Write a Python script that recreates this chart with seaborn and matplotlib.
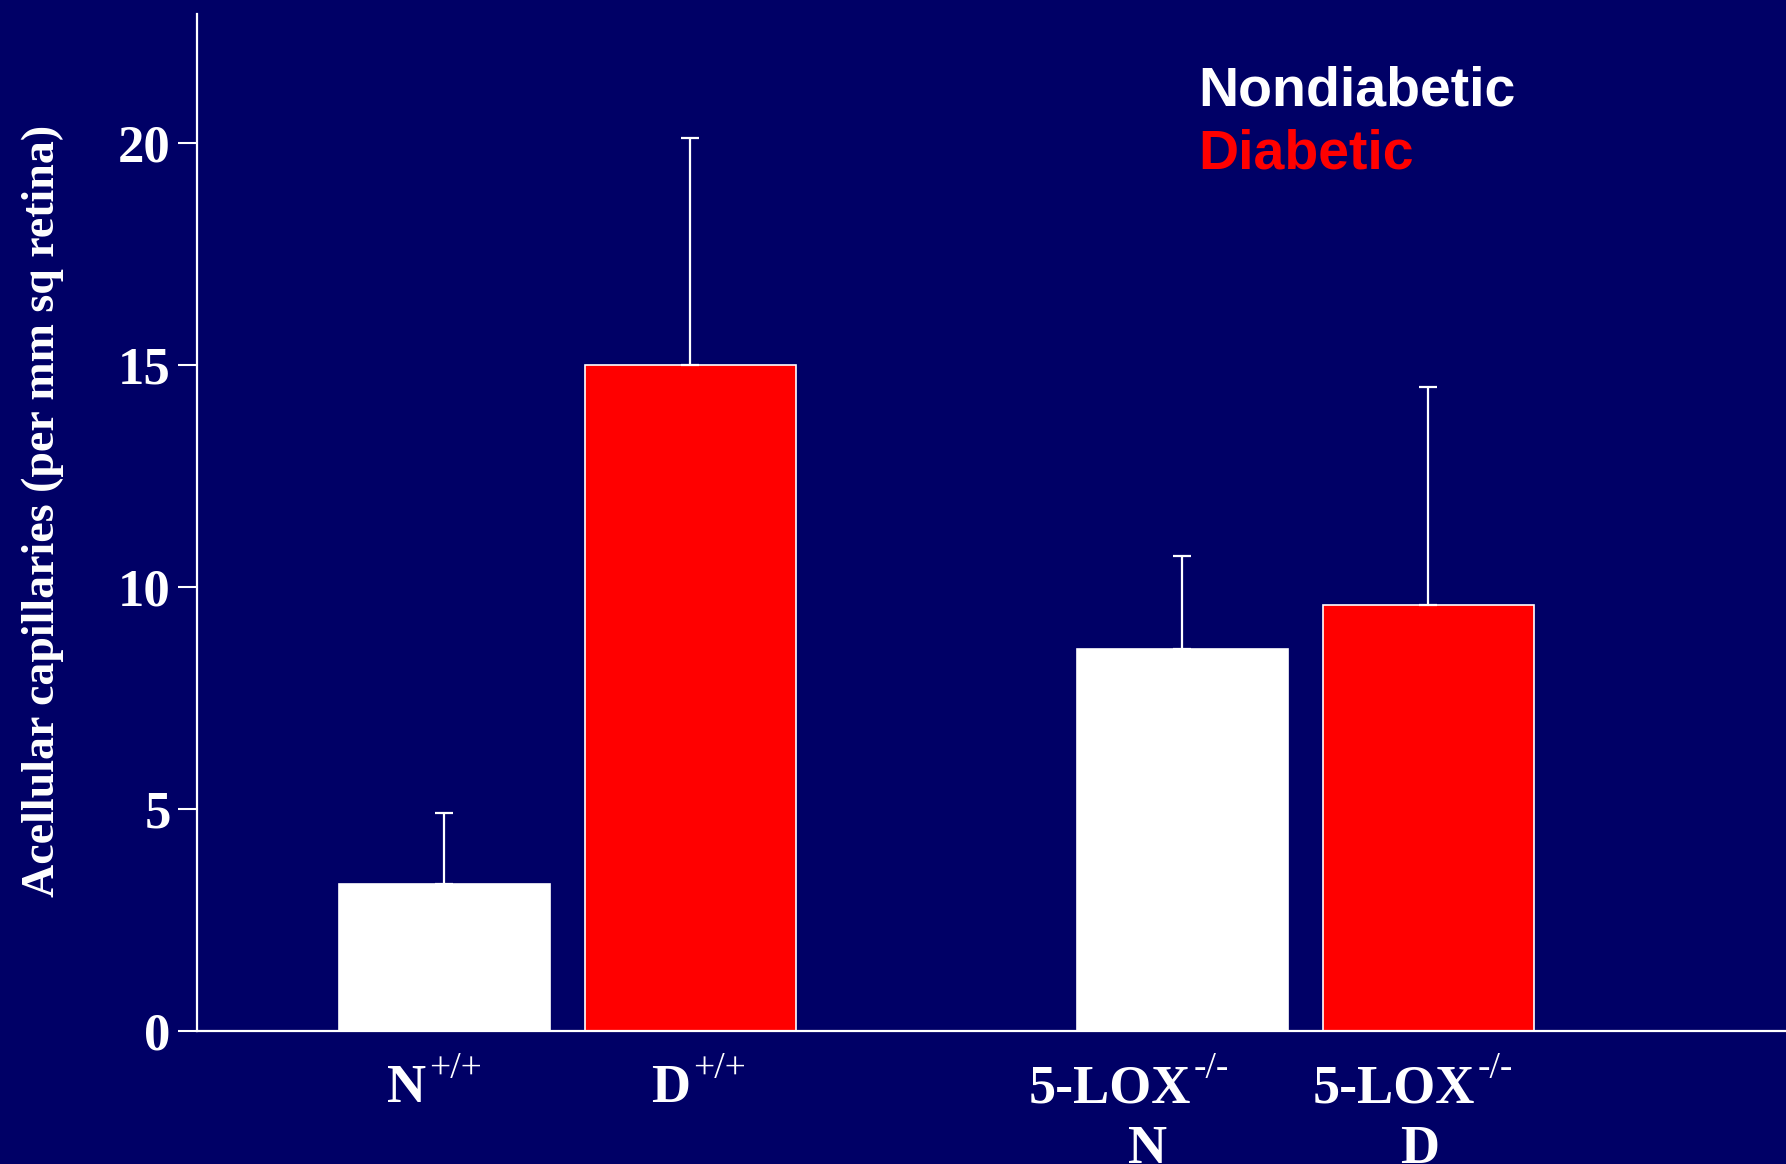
import numpy as np
import pandas as pd
import matplotlib
matplotlib.use("Agg")
import matplotlib.pyplot as plt
import seaborn as sns

# DATA
groups = ["N+/+", "D+/+", "5-LOX-/- N", "5-LOX-/- D"]
label_main = ["N", "D", "5-LOX", "5-LOX"]
label_sup = ["+/+", "+/+", "-/-", "-/-"]
label_second = ["", "", "N", "D"]
positions = [0, 1, 3, 4]
status = ["Nondiabetic", "Diabetic", "Nondiabetic", "Diabetic"]
means = [3.3, 15.0, 8.6, 9.6]
sd = [1.6, 5.1, 2.1, 4.9]

BG = "#000066"
# hand nudges of the category labels (points), as placed on the original slide
shift_main = [-27, -14, -52, -25]
shift_second = [0, 0, -25, -6]

sns.set_style("white", rc={"axes.facecolor": BG, "figure.facecolor": BG})
plt.rcParams["font.family"] = ["Liberation Serif", "DejaVu Serif"]

df = pd.DataFrame({"group": groups, "pos": positions, "status": status, "mean": means})

fig = plt.figure(figsize=(17.86, 11.64), dpi=100)
ax = fig.add_axes([0.1103, 0.1143, 0.8897, 0.8737])

sns.barplot(data=df, x="pos", y="mean", hue="status", native_scale=True, dodge=False,
            palette={"Nondiabetic": "white", "Diabetic": "#ff0000"}, width=0.856,
            saturation=1, errorbar=None, legend=False, edgecolor="white",
            linewidth=1.2, ax=ax)

# upper-only error bars
ax.errorbar(positions, means, yerr=[np.zeros(len(sd)), sd], fmt="none",
            ecolor="white", elinewidth=1.6, capsize=6.8, capthick=1.6, zorder=1)

ax.set_xlim(-1.005, 5.454)
ax.set_ylim(0, 22.9)
ax.set_yticks([0, 5, 10, 15, 20])
ax.set_xticks(positions)
ax.set_xticklabels([])
ax.set_yticklabels(["0", "5", "10", "15", "20"], fontsize=38, fontweight="bold", color="white")
ax.tick_params(axis="y", length=14, width=1.5, color="white", pad=5, left=True, direction="out")
ax.tick_params(axis="x", length=0)

# category labels under the bars (main text + superscript + second line)
for p, m, s, l2, dx, dx2 in zip(positions, label_main, label_sup, label_second,
                                shift_main, shift_second):
    t = ax.annotate(m, xy=(p, 0), xycoords=("data", "axes fraction"),
                    xytext=(dx, -24), textcoords="offset points", ha="center", va="top",
                    fontsize=39, fontweight="bold", color="white", annotation_clip=False)
    ax.annotate(s, xy=(1, 1), xycoords=t, xytext=(2, 9), textcoords="offset points",
                ha="left", va="top", fontsize=27, color="white", annotation_clip=False)
    if l2:
        ax.annotate(l2, xy=(p, 0), xycoords=("data", "axes fraction"),
                    xytext=(dx2, -68), textcoords="offset points", ha="center", va="top",
                    fontsize=39, fontweight="bold", color="white", annotation_clip=False)

ax.set_xlabel("")
ax.set_ylabel("Acellular capillaries (per mm sq retina)", fontsize=33, fontweight="bold",
              color="white")
ax.yaxis.set_label_coords(-0.0836, 0.511)

sns.despine(ax=ax, top=True, right=True)
for side in ["left", "bottom"]:
    ax.spines[side].set_color("white")
    ax.spines[side].set_linewidth(1.6)

# legend as coloured words
fig.text(0.671, 0.909, "Nondiabetic", color="white", fontsize=40, fontweight="bold",
         family="Liberation Sans", va="baseline")
fig.text(0.671, 0.855, "Diabetic", color="#ff0000", fontsize=40, fontweight="bold",
         family="Liberation Sans", va="baseline")

fig.savefig("out.png", dpi=100, facecolor=BG)
